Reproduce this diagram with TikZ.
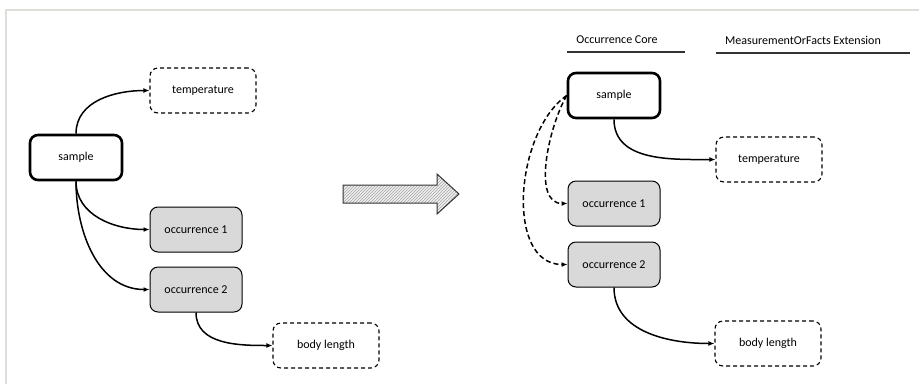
\documentclass[tikz,border=0pt]{standalone}
\usepackage{fontspec}
\setmainfont{Carlito}
\usepackage{tikz}
\usetikzlibrary{shapes, arrows.meta, positioning, patterns}
\definecolor{boxgray}{HTML}{D9D9D9}
\definecolor{framegray}{HTML}{DEDED8}
\tikzstyle{record} = [rectangle, rounded corners=8pt, minimum width=92pt, minimum height=45pt, text centered, draw=black, font=\fontsize{12}{14}\selectfont]
\tikzstyle{event} = [record, line width=2.6pt]
\tikzstyle{occ} = [record, line width=1pt, fill=boxgray]
\tikzstyle{fact} = [record, minimum width=106pt, line width=1.1pt, dashed, dash pattern=on 4pt off 3pt]
\tikzstyle{arrow} = [-{Latex[length=6pt,width=5pt]}, line width=1.5pt]
\tikzstyle{dasharrow} = [arrow, dash pattern=on 5pt off 3pt]

\begin{document}
\begin{tikzpicture}[x=1pt, y=-1pt]

    \useasboundingbox (0,0) rectangle (919,384);
    \draw [framegray, line width=1.5pt] (6,384) -- (6,10) -- (919,10);

    % before
    \node (sample0) [event] at (76, 157.5) {sample};
    \node (temp0) [fact] at (203, 90.5) {temperature};
    \node (occA0) [occ] at (196, 229.5) {occurrence 1};
    \node (occB0) [occ] at (196, 289.5) {occurrence 2};
    \node (length0) [fact] at (326, 345.5) {body length};

    \draw [arrow] (sample0.north) to[out=90, in=180] (temp0.west);
    \draw [arrow] (sample0.south) to[out=-90, in=180] (occA0.west);
    \draw [arrow] (sample0.south) to[out=-90, in=180] (occB0.west);
    \draw [arrow] (occB0.south) to[out=-90, in=180] (length0.west);

    % big arrow
    \filldraw [fill=black!6, draw=none] (343,185) -- (437,185) -- (437,174) -- (459,194) -- (437,214) -- (437,203) -- (343,203) -- cycle;
    \draw [pattern=north east lines, pattern color=black!35, draw=black!80, line width=1pt] (343,185) -- (437,185) -- (437,174) -- (459,194) -- (437,214) -- (437,203) -- (343,203) -- cycle;

    % after
    \node (core) [font=\fontsize{12}{14}\selectfont] at (617, 40) {Occurrence Core};
    \node (ext) [font=\fontsize{12}{14}\selectfont] at (803, 40) {MeasurementOrFacts Extension};
    \draw [black!80, line width=1.5pt] (567,52) -- (685,52);
    \draw [black!80, line width=1.5pt] (716,53) -- (910,53);

    \node (sample1) [event] at (614, 95.5) {sample};
    \node (temp1) [fact] at (769, 159.5) {temperature};
    \node (occA1) [occ] at (614, 203.5) {occurrence 1};
    \node (occB1) [occ] at (614, 264.5) {occurrence 2};
    \node (length1) [fact] at (768, 343.5) {body length};

    \draw [arrow] (sample1.south) to[out=-90, in=180] (temp1.west);
    \draw [arrow] (occB1.south) to[out=-90, in=180] (length1.west);
    \draw [dasharrow] (sample1.west) to[out=240, in=180, looseness=0.85] (occA1.west);
    \draw [dasharrow] (sample1.west) to[out=215, in=180, looseness=0.95] (occB1.west);

\end{tikzpicture}
\end{document}
